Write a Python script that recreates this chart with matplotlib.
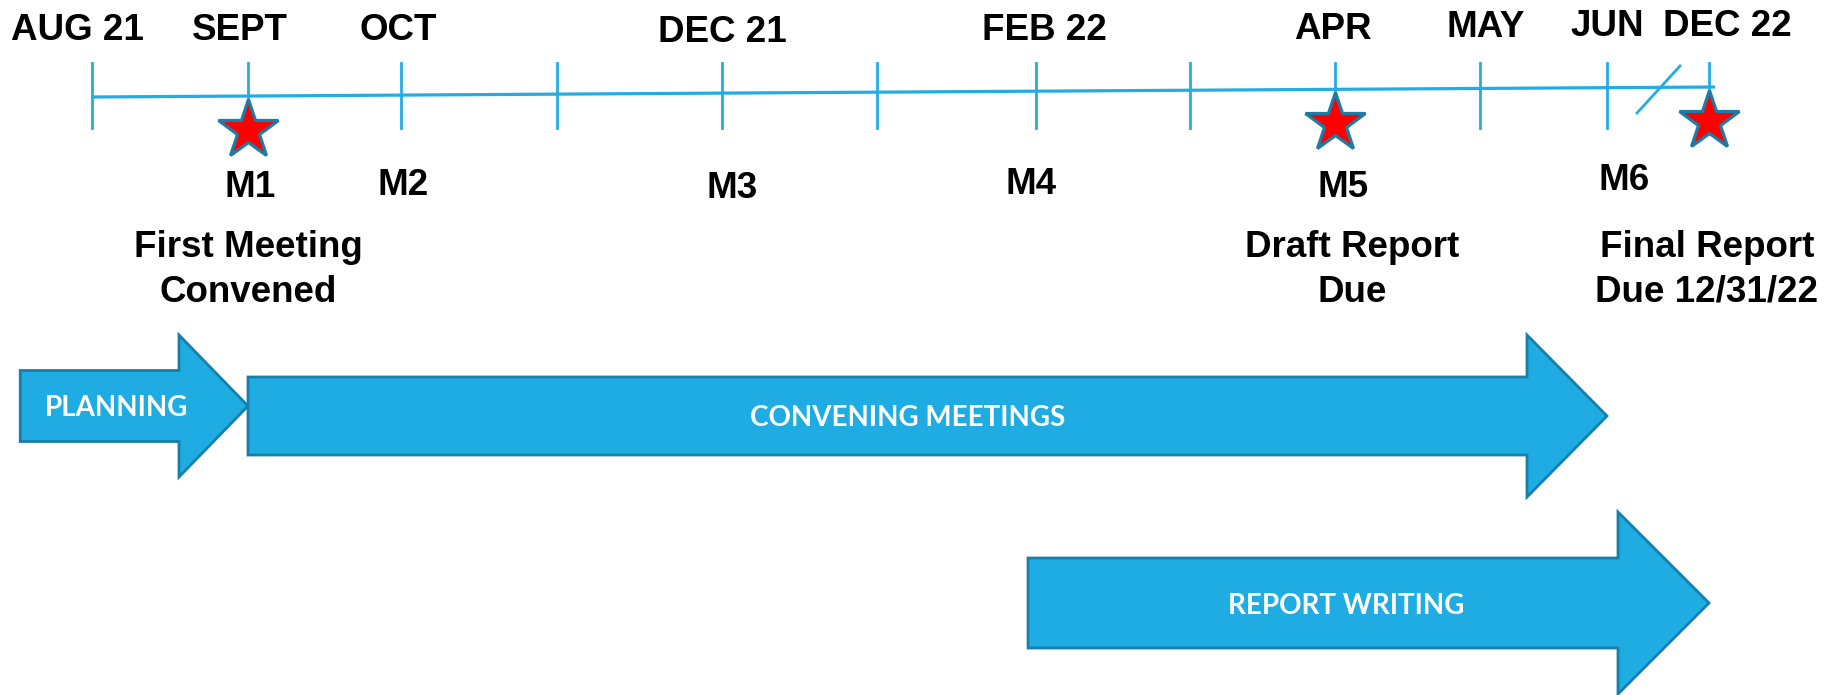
import matplotlib
matplotlib.use("Agg")
import matplotlib.pyplot as plt
from matplotlib.patches import Polygon
import numpy as np

# ---------------- data ----------------
months = ["AUG 21", "SEPT", "OCT", "", "DEC 21", "", "FEB 22", "", "APR", "MAY", "JUN", "DEC 22"]
milestones = ["M1", "M2", "M3", "M4", "M5", "M6"]
milestone_month = [1, 2, 4, 6, 8, 10]
star_month = [1, 8, 11]
notes = ["First Meeting\nConvened", "Draft Report\nDue", "Final Report\nDue 12/31/22"]
note_month = [1, 8, 11]
phases = ["PLANNING", "CONVENING MEETINGS", "REPORT WRITING"]
phase_start = [-0.46, 1, 5.95]   # month index on the timeline
phase_end = [1, 10, 11]

# ---------------- layout ----------------
W, H = 1837, 695
tick_x = [92, 248, 401, 557, 722, 877, 1036, 1190, 1335, 1480, 1607, 1709]
month_dx = [-15, -8, -3, 0, 0, 0, 8, 0, -2, 6, 0, 18]
month_base = [40, 40, 40, 40, 42, 40, 40, 40, 39, 37, 36, 36]
ms_dx = [2, 2, 10, -5, 8, 17]
ms_base = [197, 195, 198, 194, 197, 190]
note_dx = [0, 17, -2]
line_y0, line_y1 = 97, 87
line_x1 = 1715
phase_cy = [406, 416, 603]
body_half = [35.5, 39, 45]
head_half = [71, 81, 91]
head_len = [69, 80, 91]

LINE = "#22ACE2"
FILL = "#1EACE3"
EDGE = "#167FAA"
STAR_EDGE = "#1E7CA4"


def x_of(m):
    if m < 0:
        return tick_x[0] + m * (tick_x[1] - tick_x[0])
    return float(np.interp(m, np.arange(len(tick_x)), tick_x))


def line_y(x):
    return line_y0 + (x - tick_x[0]) * (line_y1 - line_y0) / (line_x1 - tick_x[0])


fig = plt.figure(figsize=(W / 100, H / 100), dpi=100)
ax = fig.add_axes([0, 0, 1, 1])
ax.set_xlim(0, W)
ax.set_ylim(H, 0)
ax.axis("off")

FONT = ["Liberation Sans", "DejaVu Sans"]
FS = 26.5

# timeline
ax.plot([tick_x[0], line_x1], [line_y0, line_y1], color=LINE, lw=2.3, solid_capstyle="butt", zorder=2)
for i, tx in enumerate(tick_x):
    ax.plot([tx, tx], [63, 128], color=LINE, lw=2.0, zorder=2)
    if months[i]:
        ax.text(tx + month_dx[i], month_base[i], months[i], ha="center", va="baseline",
                fontsize=FS, fontweight="bold", family=FONT, color="black")

# break mark between JUN and DEC 22
bx = (tick_x[10] + tick_x[11]) / 2
ax.plot([bx - 21, bx + 22], [113, 66], color=LINE, lw=2.0, zorder=2)

# milestone labels
for k, lab in enumerate(milestones):
    ax.text(x_of(milestone_month[k]) + ms_dx[k], ms_base[k], lab, ha="center", va="baseline",
            fontsize=FS, fontweight="bold", family=FONT, color="black")

# stars
for m in star_month:
    sx = x_of(m)
    ax.plot([sx], [line_y(sx) + 34], marker="*", ms=45, mfc="#FF0000", mec=STAR_EDGE,
            mew=2.3, zorder=4, linestyle="none")

# notes
for k, txt in enumerate(notes):
    nx = x_of(note_month[k]) + note_dx[k]
    l1, l2 = txt.split("\n")
    ax.text(nx, 257, l1, ha="center", va="baseline", fontsize=FS, fontweight="bold",
            family=FONT, color="black")
    ax.text(nx, 302, l2, ha="center", va="baseline", fontsize=FS, fontweight="bold",
            family=FONT, color="black")

# phase arrows
for k, name in enumerate(phases):
    x0 = x_of(phase_start[k])
    tip = x_of(phase_end[k])
    base = tip - head_len[k]
    cy = phase_cy[k]
    bh, hh = body_half[k], head_half[k]
    verts = [(x0, cy - bh), (base, cy - bh), (base, cy - hh), (tip, cy),
             (base, cy + hh), (base, cy + bh), (x0, cy + bh)]
    ax.add_patch(Polygon(verts, closed=True, facecolor=FILL, edgecolor=EDGE, lw=2.0,
                         joinstyle="miter", zorder=3))
    tx = (x0 + base) / 2 + 0.25 * head_len[k]
    ax.text(tx, cy, name, ha="center", va="center_baseline", fontsize=20, fontweight="bold",
            family=["Lato", "DejaVu Sans"], color="white", zorder=5)

fig.savefig("out.png", dpi=100)
